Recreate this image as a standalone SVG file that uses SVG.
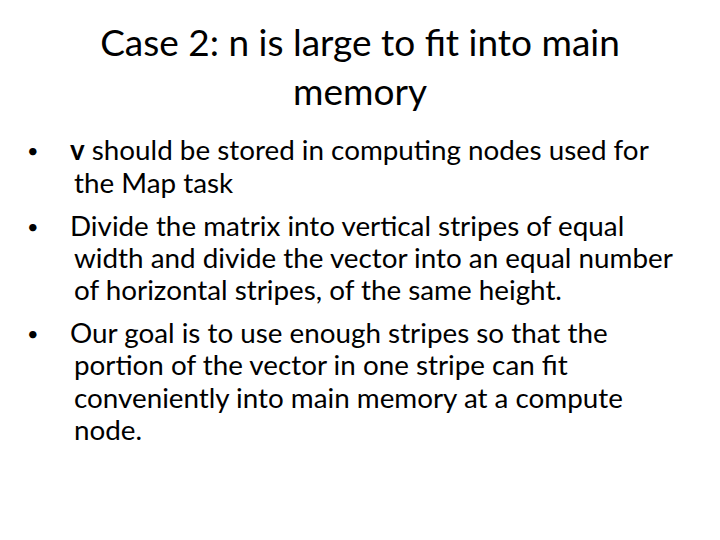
<svg xmlns="http://www.w3.org/2000/svg" width="720" height="540" viewBox="0 0 720 540">
<style>
text{font-family:Lato,"Liberation Sans",sans-serif;fill:#000}
.t{font-size:37px;text-anchor:middle}
.b{font-size:27.8px}
.d{font-size:20px}
</style>
<rect width="720" height="540" fill="#fff"/>
<g id="title">
<text class="t" x="360" y="56">Case 2: n is large to fit into main</text>
<text class="t" x="360" y="105">memory</text>
</g>
<g id="body">
<text class="d" x="27" y="158">•</text>
<text class="b" x="70" y="160"><tspan font-weight="bold">v</tspan> should be stored in computing nodes used for</text>
<text class="b" x="74" y="193">the Map task</text>
<text class="d" x="27" y="234">•</text>
<text class="b" x="70" y="236">Divide the matrix into vertical stripes of equal</text>
<text class="b" x="74" y="268">width and divide the vector into an equal number</text>
<text class="b" x="74" y="300">of horizontal stripes, of the same height.</text>
<text class="d" x="27" y="341">•</text>
<text class="b" x="70" y="343">Our goal is to use enough stripes so that the</text>
<text class="b" x="74" y="375">portion of the vector in one stripe can fit</text>
<text class="b" x="74" y="408">conveniently into main memory at a compute</text>
<text class="b" x="74" y="440">node.</text>
</g>
</svg>
